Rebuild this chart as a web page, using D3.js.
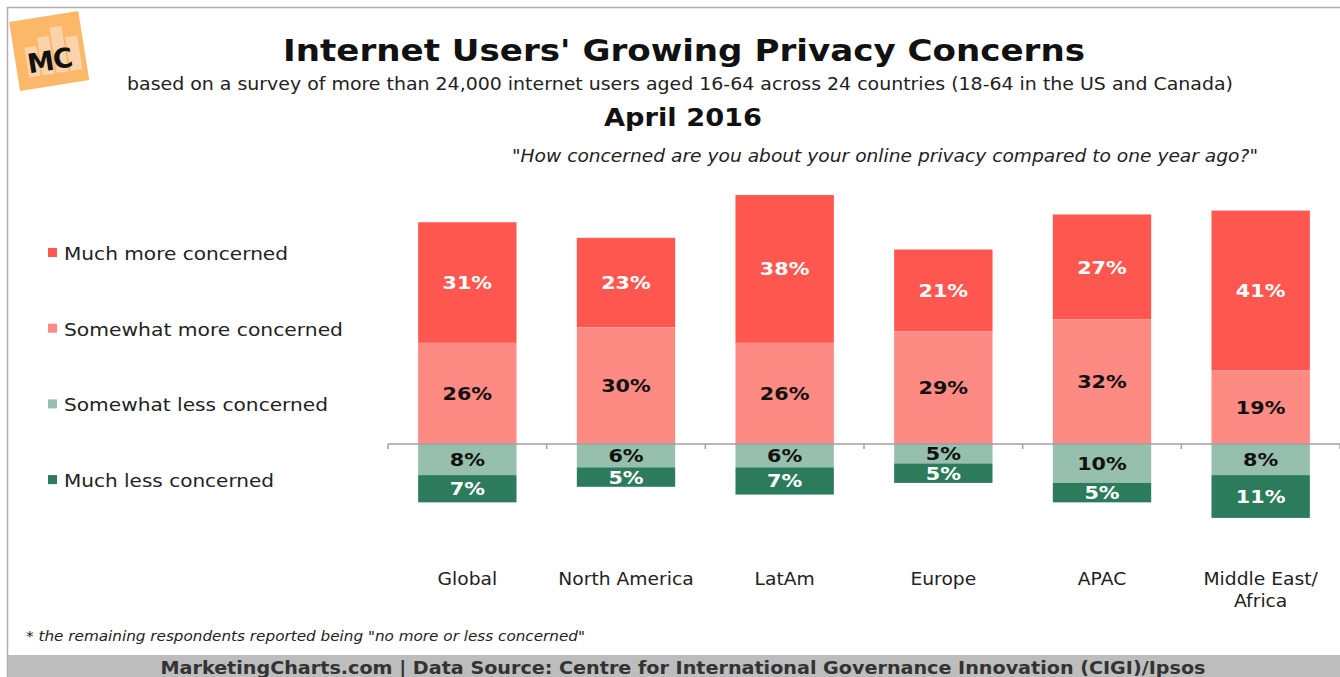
<!DOCTYPE html>
<html>
<head>
<meta charset="utf-8">
<script src="https://cdn.jsdelivr.net/npm/d3@7"></script>
<style>
  body { margin: 0; background: #fff; }
  svg { display: block; font-family: "DejaVu Sans", Verdana, sans-serif; }
</style>
</head>
<body>
<div id="chart"></div>
<script>
// data
const categories = ["Global", "North America", "LatAm", "Europe", "APAC", "Middle East/Africa"]
const muchMore = [31, 23, 38, 21, 27, 41]
const somewhatMore = [26, 30, 26, 29, 32, 19]
const somewhatLess = [8, 6, 6, 5, 10, 8]
const muchLess = [7, 5, 7, 5, 5, 11]
const seriesNames = ["Much more concerned", "Somewhat more concerned", "Somewhat less concerned", "Much less concerned"]
const colors = ["#fe574f", "#fe8a84", "#96bfad", "#2c7b5c"]
const labelColors = ["#fff", "#111", "#111", "#fff"]

const W = 1340, H = 677

// verdana is wider than dejavu, so stretch texts a bit
function widen(sel, k) {
    sel.each(function() {
        var len = this.getComputedTextLength()
        d3.select(this).attr("textLength", len * k).attr("lengthAdjust", "spacingAndGlyphs")
    })
    return sel
}

const svg = d3.select("#chart").append("svg")
    .attr("width", W)
    .attr("height", H)

// frame
svg.append("path")
    .attr("d", "M7.5,677 V7.5 H1340")
    .attr("fill", "none")
    .attr("stroke", "#b0b0b0")
    .attr("stroke-width", 1.5)

// logo
var logo = svg.append("g").attr("transform", "translate(49,50) rotate(-9)")
logo.append("rect").attr("x", -35).attr("y", -34).attr("width", 70).attr("height", 70)
    .attr("fill", "#fbb868")
;[[-24, -6, 12, 30], [-10, -14, 12, 38], [4, -22, 12, 46], [18, -10, 12, 34]].forEach(function(b) {
    logo.append("rect").attr("x", b[0]).attr("y", b[1]).attr("width", b[2]).attr("height", b[3])
        .attr("fill", "#f9dcc2").attr("opacity", 0.75)
})
logo.append("text").attr("x", -1).attr("y", 20).attr("text-anchor", "middle")
    .attr("font-size", 27).attr("font-weight", "bold").attr("fill", "#111")
    .attr("letter-spacing", -1).text("MC")

// titles
svg.append("text").attr("x", 684).attr("y", 61).attr("text-anchor", "middle")
    .attr("font-size", 30).attr("font-weight", "bold").attr("fill", "#111")
    .attr("textLength", 802).attr("lengthAdjust", "spacingAndGlyphs")
    .text("Internet Users' Growing Privacy Concerns")
svg.append("text").attr("x", 680).attr("y", 90).attr("text-anchor", "middle")
    .attr("font-size", 17).attr("fill", "#222")
    .attr("textLength", 1106).attr("lengthAdjust", "spacingAndGlyphs")
    .text("based on a survey of more than 24,000 internet users aged 16-64 across 24 countries (18-64 in the US and Canada)")
svg.append("text").attr("x", 683).attr("y", 126).attr("text-anchor", "middle")
    .attr("font-size", 25).attr("font-weight", "bold").attr("fill", "#111")
    .attr("textLength", 158).attr("lengthAdjust", "spacingAndGlyphs")
    .text("April 2016")
svg.append("text").attr("x", 1258).attr("y", 162).attr("text-anchor", "end")
    .attr("font-size", 17).attr("font-style", "italic").attr("fill", "#222")
    .attr("textLength", 746).attr("lengthAdjust", "spacingAndGlyphs")
    .text("\"How concerned are you about your online privacy compared to one year ago?\"")

// scales
var xScale = d3.scaleBand()
    .domain(categories)
    .range([388, 1340])
    .paddingInner(0.38)
    .paddingOuter(0.19)

var yScale = d3.scaleLinear()
    .domain([-20, 65])
    .range([444 + 20 * 3.89, 444 - 65 * 3.89])

// stacked segments: positives up from 0, negatives down from 0
var rows = categories.map(function(c, i) {
    var sm = somewhatMore[i], mm = muchMore[i], sl = somewhatLess[i], ml = muchLess[i]
    return [
        {cat: c, s: 0, y0: sm, y1: sm + mm, v: mm},
        {cat: c, s: 1, y0: 0, y1: sm, v: sm},
        {cat: c, s: 2, y0: -sl, y1: 0, v: sl},
        {cat: c, s: 3, y0: -sl - ml, y1: -sl, v: ml}
    ]
})
var segs = [].concat.apply([], rows)

var barGrp = svg.append("g")
barGrp.selectAll("rect").data(segs).enter()
    .append("rect")
    .attr("x", function(d) { return xScale(d.cat) })
    .attr("width", xScale.bandwidth())
    .attr("y", function(d) { return yScale(d.y1) })
    .attr("height", function(d) { return yScale(d.y0) - yScale(d.y1) })
    .attr("fill", function(d) { return colors[d.s] })

widen(barGrp.selectAll("text").data(segs).enter()
    .append("text")
    .attr("x", function(d) { return xScale(d.cat) + xScale.bandwidth() / 2 })
    .attr("y", function(d) { return (yScale(d.y0) + yScale(d.y1)) / 2 + 6.5 })
    .attr("text-anchor", "middle")
    .attr("font-size", 18)
    .attr("font-weight", "bold")
    .attr("fill", function(d) { return labelColors[d.s] })
    .text(function(d) { return d.v + "%" }), 1.15)

// zero axis with tick marks at band edges
var axis = svg.append("g")
axis.append("line")
    .attr("x1", 388).attr("x2", 1340)
    .attr("y1", yScale(0)).attr("y2", yScale(0))
    .attr("stroke", "#a0a0a0").attr("stroke-width", 1.5)
var step = xScale.step()
var edges = categories.map(function(c) { return xScale(c) - xScale.paddingOuter() * step }).concat([1340])
axis.selectAll(".tick").data(edges).enter()
    .append("line")
    .attr("x1", function(d) { return d }).attr("x2", function(d) { return d })
    .attr("y1", yScale(0)).attr("y2", yScale(0) + 5)
    .attr("stroke", "#a0a0a0").attr("stroke-width", 1.5)

// category labels
svg.append("g").selectAll("text").data(categories).enter()
    .append("text")
    .attr("x", function(d) { return xScale(d) + xScale.bandwidth() / 2 })
    .attr("y", 585)
    .attr("text-anchor", "middle")
    .attr("font-size", 17)
    .attr("fill", "#222")
    .each(function(d) {
        var parts = d.indexOf("/") > 0 ? [d.slice(0, d.indexOf("/") + 1), d.slice(d.indexOf("/") + 1)] : [d]
        var t = d3.select(this)
        parts.forEach(function(p, i) {
            var ts = t.append("tspan").attr("x", t.attr("x")).attr("dy", i ? 22 : 0).text(p)
            ts.attr("textLength", ts.node().getComputedTextLength() * 1.1)
                .attr("lengthAdjust", "spacingAndGlyphs")
        })
    })

// legend
var legendW = [224, 279, 264, 210]
var legend = svg.append("g")
seriesNames.forEach(function(name, i) {
    var ly = 260 + i * 75.7
    legend.append("rect").attr("x", 48).attr("y", ly - 12).attr("width", 9).attr("height", 9)
        .attr("fill", colors[i])
    legend.append("text").attr("x", 64).attr("y", ly).attr("font-size", 18.5).attr("fill", "#222")
        .attr("textLength", legendW[i]).attr("lengthAdjust", "spacingAndGlyphs")
        .text(name)
})

// footnote
svg.append("text").attr("x", 26).attr("y", 641)
    .attr("font-size", 14.5).attr("font-style", "italic").attr("fill", "#222")
    .attr("textLength", 559).attr("lengthAdjust", "spacingAndGlyphs")
    .text("* the remaining respondents reported being \"no more or less concerned\"")

// footer band
svg.append("rect").attr("x", 8).attr("y", 655).attr("width", W - 8).attr("height", H - 655)
    .attr("fill", "#bdbdbd")
svg.append("text").attr("x", 683).attr("y", 674).attr("text-anchor", "middle")
    .attr("font-size", 17).attr("font-weight", "bold").attr("fill", "#333")
    .attr("textLength", 1045).attr("lengthAdjust", "spacingAndGlyphs")
    .text("MarketingCharts.com | Data Source: Centre for International Governance Innovation (CIGI)/Ipsos")
</script>
</body>
</html>
